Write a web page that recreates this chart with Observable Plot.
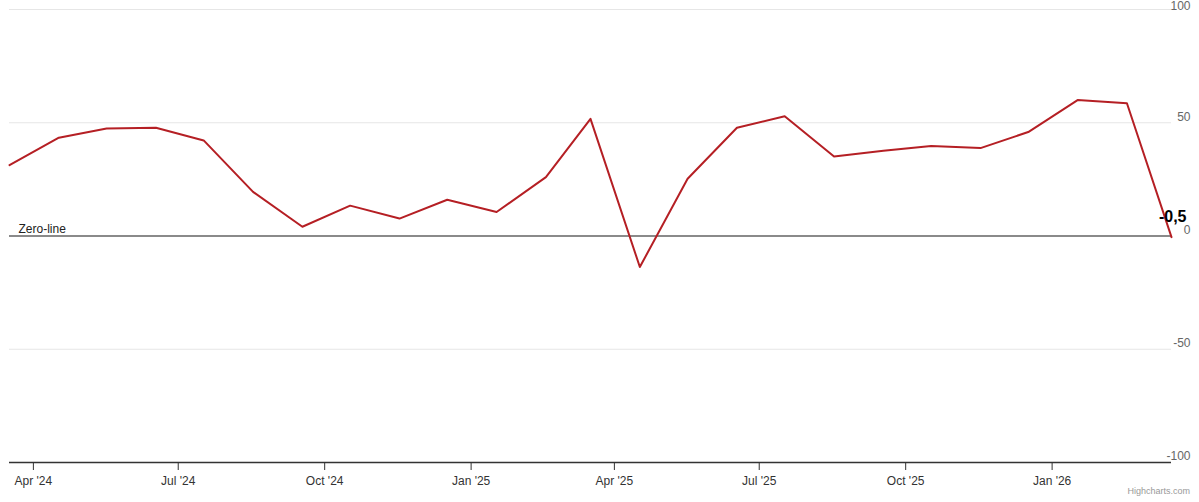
<!DOCTYPE html>
<html>
<head>
<meta charset="utf-8">
<script src="https://cdn.jsdelivr.net/npm/d3@7"></script>
<script src="https://cdn.jsdelivr.net/npm/@observablehq/plot@0.6"></script>
<style>
  html, body { margin: 0; padding: 0; background: #fff; }
  #chart { position: relative; width: 1199px; height: 502px; }
  .credit { position: absolute; right: 9px; top: 486px; font: 9px "Liberation Sans", Arial, sans-serif; color: #999; }
</style>
</head>
<body>
<div id="chart"></div>
<script>
const months = ["2024-03-17","2024-04-17","2024-05-17","2024-06-17","2024-07-17","2024-08-17","2024-09-17","2024-10-17","2024-11-17","2024-12-17","2025-01-17","2025-02-17","2025-03-17","2025-04-17","2025-05-17","2025-06-17","2025-07-17","2025-08-17","2025-09-17","2025-10-17","2025-11-17","2025-12-17","2026-01-17","2026-02-17","2026-03-17"];
const values = [31.3, 43.4, 47.5, 47.8, 42.2, 19.5, 4.1, 13.4, 7.7, 16.0, 10.6, 26.0, 51.7, -13.7, 25.3, 47.8, 52.9, 35.1, 37.6, 39.7, 38.8, 45.9, 60.0, 58.6, -0.5];
const xTickDates = ["2024-04-01","2024-07-01","2024-10-01","2025-01-01","2025-04-01","2025-07-01","2025-10-01","2026-01-01"];
const xTickLabels = ["Apr '24","Jul '24","Oct '24","Jan '25","Apr '25","Jul '25","Oct '25","Jan '26"];
const yTicks = [-100, -50, 0, 50];
const yTopTick = [100];
const gridTicks = [-50, 50, 100];
const lastLabel = "-0,5";
const zeroLabel = "Zero-line";

const data = months.map((m, i) => ({date: new Date(m + "T00:00:00Z"), value: values[i]}));
const tickDates = xTickDates.map(d => new Date(d + "T00:00:00Z"));
const tickLabelMap = new Map(tickDates.map((d, i) => [+d, xTickLabels[i]]));
const last = data[data.length - 1];

const chart = Plot.plot({
  width: 1199,
  height: 502,
  marginLeft: 9,
  marginRight: 28,
  marginTop: 9,
  marginBottom: 40,
  style: {fontFamily: '"Liberation Sans", Arial, sans-serif', fontSize: "12px", background: "#fff", overflow: "visible"},
  x: {type: "utc", domain: [data[0].date, last.date]},
  y: {domain: [-100, 100]},
  marks: [
    Plot.ruleY(gridTicks, {stroke: "#e6e6e6", strokeWidth: 1}),
    Plot.ruleY([0], {stroke: "#8a8a8a", strokeWidth: 2}),
    Plot.ruleY([-100], {stroke: "#333", strokeWidth: 1.5}),
    Plot.axisX({ticks: tickDates, tickSize: 8, tickPadding: 6, tickFormat: d => tickLabelMap.get(+d), stroke: "#333", fill: "#333", fontSize: 12, label: null}),
    Plot.axisY({anchor: "right", ticks: yTicks, tickSize: 0, tickPadding: 3, textAnchor: "end", dx: 16, dy: -6, tickFormat: d => String(d), fill: "#666", fontSize: 12, label: null}),
    Plot.axisY({anchor: "right", ticks: yTopTick, tickSize: 0, tickPadding: 3, textAnchor: "end", dx: 16, dy: -3, tickFormat: d => String(d), fill: "#666", fontSize: 12, label: null}),
    Plot.line(data, {x: "date", y: "value", stroke: "#b51f24", strokeWidth: 2}),
    Plot.text([zeroLabel], {x: () => data[0].date, y: () => 0, text: d => d, textAnchor: "start", dx: 9, dy: -7, fill: "#222", fontSize: 12}),
    Plot.text([last], {x: "date", y: "value", text: () => lastLabel, textAnchor: "end", dx: 15, dy: -20, fill: "#000", fontSize: 16, fontWeight: "bold"})
  ]
});
const root = document.getElementById("chart");
root.appendChild(chart);
const credit = document.createElement("div");
credit.className = "credit";
credit.textContent = "Highcharts.com";
root.appendChild(credit);
</script>
</body>
</html>
